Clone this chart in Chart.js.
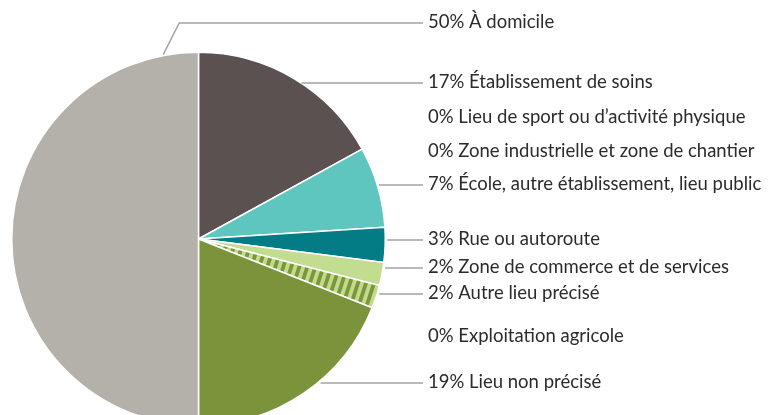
<!DOCTYPE html>
<html lang="fr">
<head>
<meta charset="utf-8">
<script src="https://cdn.jsdelivr.net/npm/chart.js@4"></script>
<style>
  html, body { margin: 0; padding: 0; background: #fff; overflow: hidden; }
  #wrap { position: relative; width: 770px; height: 430px; }
</style>
</head>
<body>
<div id="wrap"><canvas id="pieChart"></canvas></div>
<script>
// ── Data ─────────────────────────────────────────────────────
const LABELS = [
  'Établissement de soins',
  'Lieu de sport ou d’activité physique',
  'Zone industrielle et zone de chantier',
  'École, autre établissement, lieu public',
  'Rue ou autoroute',
  'Zone de commerce et de services',
  'Autre lieu précisé',
  'Exploitation agricole',
  'Lieu non précisé',
  'À domicile'
];
const VALUES = [17, 0, 0, 7, 3, 2, 2, 0, 19, 50];

// ── Styles / layout ──────────────────────────────────────────
const COLORS = ['#5b5150', '#5b5150', '#5b5150', '#5ec5bf', '#047c86',
                '#c3dd90', 'HATCH', '#7b943b', '#7b943b', '#b4b1aa'];
// text centre line for each label (same order as LABELS)
const LABEL_Y = [82, 117, 151, 184, 239, 267, 293, 336, 382, 22];
const TEXT_X  = 428;
const LINE_END = 423;

function hatchPattern() {
  const c = document.createElement('canvas');
  c.width = 8; c.height = 60;
  const g = c.getContext('2d');
  g.fillStyle = '#c1da8c';
  g.fillRect(0, 0, 8, 60);
  g.fillStyle = '#7a983a';
  g.fillRect(0, 0, 4, 60);
  const p = g.createPattern(c, 'repeat');
  p.setTransform(new DOMMatrix().skewX(-18));
  return p;
}

const labelPlugin = {
  id: 'sideLabels',
  afterDraw(chart) {
    const ctx = chart.ctx;
    const arc = chart.getDatasetMeta(0).data[0];
    const cx = arc.x, cy = arc.y, r = arc.outerRadius;
    ctx.save();
    ctx.strokeStyle = '#a3a3a3';
    ctx.lineWidth = 1.5;
    ctx.font = '18.5px Lato, "Noto Sans", sans-serif';
    ctx.fillStyle = '#2b2b2b';
    ctx.textBaseline = 'middle';
    LABELS.forEach((lab, i) => {
      const y = LABEL_Y[i];
      if (VALUES[i] > 0) {
        const dy = y - cy;
        ctx.beginPath();
        if (Math.abs(dy) < r) {
          ctx.moveTo(cx + Math.sqrt(r * r - dy * dy) + 2, y + 1);
          ctx.lineTo(LINE_END, y + 1);
        } else {
          // slice whose mid-height lies above the pie: elbow line
          const a = -Math.PI / 2 - 0.19;
          const ex = cx + r * Math.cos(a), ey = cy + r * Math.sin(a);
          ctx.moveTo(ex, ey - 1);
          ctx.lineTo(ex + 16, y + 1);
          ctx.lineTo(LINE_END, y + 1);
        }
        ctx.stroke();
      }
      ctx.fillText(VALUES[i] + '% ' + lab, TEXT_X, y);
    });
    ctx.restore();
  }
};

const hatch = hatchPattern();

new Chart(document.getElementById('pieChart').getContext('2d'), {
  type: 'pie',
  data: {
    labels: LABELS,
    datasets: [{
      data: VALUES,
      backgroundColor: COLORS.map(c => c === 'HATCH' ? hatch : c),
      borderColor: '#ffffff',
      borderWidth: 1.5
    }]
  },
  options: {
    responsive: true,
    maintainAspectRatio: false,
    animation: false,
    layout: { padding: { left: 11, top: 51, right: 384, bottom: 3 } },
    plugins: {
      legend: { display: false },
      tooltip: { enabled: false }
    }
  },
  plugins: [labelPlugin]
});
</script>
</body>
</html>
